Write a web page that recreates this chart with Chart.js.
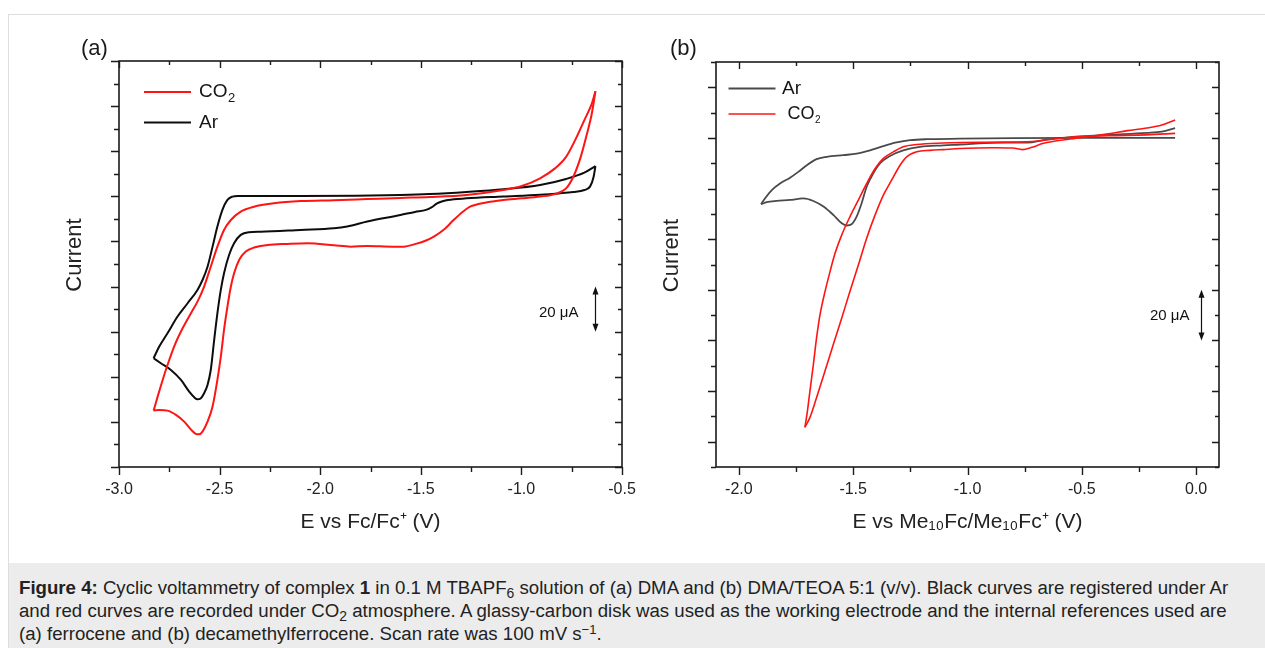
<!DOCTYPE html>
<html>
<head>
<meta charset="utf-8">
<script src="https://cdn.jsdelivr.net/npm/chart.js@4.4.1/dist/chart.umd.min.js"></script>
<style>
  html, body { margin: 0; padding: 0; background: #fff; }
  body {
    width: 1265px; height: 648px; position: relative; overflow: hidden;
    font-family: "Liberation Sans", Arial, Helvetica, sans-serif; color: #222;
  }
  .box { position: absolute; left: 8px; top: 14px; width: 1300px; height: 700px; border: 1px solid #dedede; }
  canvas { position: absolute; top: 0; }
  #cvA { left: 0; }
  #cvB { left: 640px; }
  .panel { position: absolute; font-size: 22px; line-height: 22px; color: #1a1a1a; }
  .caption {
    position: absolute; left: 9px; top: 563px; width: 1256px; height: 85px;
    background: #ececec; box-sizing: border-box; padding: 13px 0 0 10px;
    font-size: 18.65px; line-height: 23px; white-space: nowrap; color: #222;
  }
  .caption sub { font-size: 0.75em; line-height: 0; vertical-align: -0.3em; }
  .caption sup { font-size: 0.7em; line-height: 0; vertical-align: 0.45em; }
</style>
</head>
<body>
<div class="box"></div>
<canvas id="cvA" width="640" height="548"></canvas>
<canvas id="cvB" width="625" height="548"></canvas>
<div class="panel" style="left:81px;top:37px">(a)</div>
<div class="panel" style="left:670px;top:37px">(b)</div>
<div class="caption">
<b>Figure 4:</b> Cyclic voltammetry of complex <b>1</b> in 0.1 M TBAPF<sub>6</sub> solution of (a) DMA and (b) DMA/TEOA 5:1 (v/v). Black curves are registered under Ar<br>
and red curves are recorded under CO<sub>2</sub> atmosphere. A glassy-carbon disk was used as the working electrode and the internal references used are<br>
(a) ferrocene and (b) decamethylferrocene. Scan rate was 100 mV s<sup>&minus;1</sup>.
</div>

<script>
"use strict";

/**
 * (a) DMA, potentials vs Fc/Fc+ (V), currents in uA
 */
const arA_cathE = [-0.632, -0.641, -0.659, -0.687, -0.742, -0.815, -0.907, -1.090, -1.273, -1.365,
    -1.392, -1.419, -1.447, -1.474, -1.529, -1.601, -1.766, -1.866, -1.932, -2.097,
    -2.296, -2.354, -2.395, -2.428, -2.453, -2.478, -2.494, -2.511, -2.527, -2.544,
    -2.560, -2.577, -2.593, -2.610, -2.626, -2.651, -2.692, -2.742, -2.792, -2.828];
const arA_cathI = [13.4, 8.7, 4.3, 2.8, 1.9, 1.3, 0.7, -0.1, -0.9, -1.6,
    -2.2, -3.1, -4.9, -6.0, -6.9, -8.3, -11.2, -13.4, -14.2, -14.9,
    -15.7, -15.9, -17.1, -20.8, -26.0, -34.1, -41.5, -51.9, -63.7, -77.0,
    -83.6, -87.3, -89.5, -90.0, -89.1, -86.6, -81.4, -77.0, -74.0, -71.8];

const arA_anodE = [-2.828, -2.800, -2.759, -2.709, -2.659, -2.610, -2.585, -2.560, -2.535, -2.511,
    -2.486, -2.461, -2.436, -2.411, -2.300, -2.097, -1.822, -1.601, -1.456, -1.273,
    -1.090, -0.907, -0.778, -0.687, -0.632];
const arA_anodI = [-71.8, -66.6, -60.7, -53.3, -47.4, -41.5, -37.1, -31.2, -22.3, -13.4,
    -6.0, -1.6, -0.1, 0.2, 0.2, 0.2, 0.3, 0.6, 1.0, 1.9,
    3.1, 5.0, 7.7, 10.5, 13.4];

const co2A_cathE = [-0.632, -0.650, -0.678, -0.705, -0.742, -0.778, -0.833, -0.907, -0.998, -1.090,
    -1.181, -1.255, -1.291, -1.337, -1.383, -1.429, -1.474, -1.529, -1.584, -1.639,
    -1.766, -1.849, -1.932, -2.064, -2.163, -2.262, -2.329, -2.370, -2.403, -2.428,
    -2.444, -2.461, -2.478, -2.494, -2.511, -2.535, -2.560, -2.585, -2.602, -2.618,
    -2.643, -2.676, -2.717, -2.759, -2.800, -2.828];
const co2A_cathI = [46.6, 36.7, 26.4, 17.5, 8.7, 3.5, 1.0, -0.1, -0.9, -1.6,
    -2.8, -4.6, -6.8, -10.5, -14.6, -17.5, -19.6, -21.2, -22.3, -22.3,
    -22.0, -22.3, -21.7, -20.8, -21.1, -21.6, -22.7, -24.5, -28.2, -34.1,
    -40.0, -48.9, -59.2, -71.1, -81.4, -93.2, -99.9, -104.3, -105.5, -105.3,
    -103.3, -99.9, -96.9, -95.0, -94.7, -95.0];

const co2A_anodE = [-2.828, -2.808, -2.783, -2.759, -2.726, -2.684, -2.643, -2.610, -2.577, -2.544,
    -2.511, -2.478, -2.444, -2.395, -2.329, -2.230, -2.097, -1.932, -1.766, -1.601,
    -1.456, -1.273, -1.090, -0.998, -0.907, -0.833, -0.778, -0.733, -0.687, -0.650,
    -0.632];
const co2A_anodI = [-95.0, -88.8, -81.4, -74.8, -66.6, -58.5, -51.9, -46.7, -40.0, -31.2,
    -22.3, -14.9, -10.5, -6.8, -4.6, -3.1, -2.1, -1.7, -1.2, -0.7,
    -0.3, 0.6, 2.8, 4.6, 8.0, 12.4, 17.5, 24.9, 33.8, 41.1,
    46.6];

/**
 * (b) DMA/TEOA, potentials vs Me10Fc/Me10Fc+ (V), currents in uA
 */
const arB_upE = [-0.092, -0.500, -0.800, -1.033, -1.178, -1.251, -1.310, -1.368, -1.426, -1.485,
    -1.543, -1.616, -1.660, -1.703, -1.740, -1.776, -1.820, -1.856, -1.886, -1.903];
const arB_upI = [40.0, 40.0, 39.9, 39.7, 39.5, 39.1, 38.2, 36.8, 35.1, 33.8,
    33.2, 32.5, 31.6, 29.2, 26.6, 24.3, 22.0, 19.4, 16.1, 13.8];

const arB_loE = [-1.903, -1.878, -1.835, -1.776, -1.718, -1.674, -1.630, -1.587, -1.550, -1.528,
    -1.507, -1.485, -1.463, -1.441, -1.412, -1.383, -1.339, -1.281, -1.208, -1.106,
    -1.033, -0.886, -0.718, -0.652, -0.551, -0.384, -0.217, -0.150, -0.092];
const arB_loI = [13.8, 14.6, 15.1, 15.5, 16.1, 15.1, 12.9, 9.6, 6.3, 5.4,
    5.9, 8.9, 14.2, 20.7, 26.0, 29.9, 32.9, 35.1, 36.5, 37.1,
    37.4, 38.1, 38.3, 39.4, 40.3, 41.2, 42.0, 42.5, 43.9];

const co2B_leftE = [-1.711, -1.700, -1.689, -1.674, -1.660, -1.645, -1.623, -1.601, -1.579, -1.550,
    -1.514, -1.477, -1.441, -1.404, -1.368, -1.324, -1.281, -1.222, -1.106, -1.033,
    -0.886, -0.718, -0.551, -0.384, -0.217, -0.092];
const co2B_leftI = [-74.3, -67.8, -59.9, -49.4, -38.9, -29.8, -20.6, -12.7, -5.5, 1.7,
    8.9, 15.5, 22.0, 27.9, 31.9, 34.5, 36.5, 37.4, 38.0, 38.2,
    38.3, 38.6, 40.3, 40.9, 41.2, 41.8];

const co2B_rightE = [-1.711, -1.689, -1.660, -1.623, -1.587, -1.550, -1.514, -1.477, -1.441, -1.404,
    -1.368, -1.332, -1.295, -1.266, -1.222, -1.164, -1.106, -1.033, -0.886, -0.802,
    -0.760, -0.718, -0.668, -0.551, -0.384, -0.301, -0.217, -0.150, -0.092];
const co2B_rightI = [-74.3, -70.4, -62.5, -52.0, -41.6, -31.1, -20.6, -10.1, 0.4, 9.6,
    17.4, 23.3, 29.2, 32.5, 34.5, 35.1, 35.4, 35.8, 36.1, 36.0,
    35.4, 36.3, 37.9, 39.6, 41.6, 42.9, 43.9, 45.1, 47.1];

/**
 * Ejes: etiquetas del eje x y barras de escala (20 uA)
 */
const xTicksA = [-3.0, -2.5, -2.0, -1.5, -1.0, -0.5];
const xTicksB = [-2.0, -1.5, -1.0, -0.5, 0.0];
const scaleBarA = [-40, -60];
const scaleBarB = [-20, -40];

const FONT = '"Liberation Sans", Arial, Helvetica, sans-serif';
const RED = "#ff1414";

function toPoints(es, is) {
    return es.map((e, i) => ({ x: e, y: is[i] }));
}

function branch(es, is, color, width) {
    return {
        data: toPoints(es, is),
        borderColor: color,
        borderWidth: width,
        showLine: true,
        pointRadius: 0,
        fill: false,
        cubicInterpolationMode: "monotone",
    };
}

/**
 * Marco cerrado con marcas: hacia fuera abajo/izquierda, hacia dentro arriba/derecha
 */
function framePlugin() {
    return {
        id: "frame",
        afterDatasetsDraw(chart) {
            const { ctx, chartArea: a, scales } = chart;
            const x = scales.x;
            const y = scales.y;
            ctx.save();
            ctx.strokeStyle = "#1b1b1b";
            ctx.lineWidth = 1.6;
            ctx.strokeRect(a.left, a.top, a.right - a.left, a.bottom - a.top);

            ctx.lineWidth = 1.4;
            ctx.beginPath();
            for (let k = Math.ceil(x.min / 0.25 - 1e-6); k <= Math.floor(x.max / 0.25 + 1e-6); k++) {
                const px = Math.round(x.getPixelForValue(k * 0.25)) + 0.5;
                const major = k % 2 === 0;
                ctx.moveTo(px, a.bottom);
                ctx.lineTo(px, a.bottom + (major ? 8 : 5));
                ctx.moveTo(px, a.top);
                ctx.lineTo(px, a.top + (major ? 7 : 4));
            }
            for (let k = Math.ceil(y.min / 10 - 1e-6); k <= Math.floor(y.max / 10 + 1e-6); k++) {
                const py = Math.round(y.getPixelForValue(k * 10)) + 0.5;
                const major = k % 2 === 0;
                ctx.moveTo(a.left, py);
                ctx.lineTo(a.left - (major ? 8 : 5), py);
                ctx.moveTo(a.right, py);
                ctx.lineTo(a.right - (major ? 7 : 4), py);
            }
            ctx.stroke();
            ctx.restore();
        },
    };
}

/**
 * Titulo vertical "Current", algo por encima del centro del eje
 */
function yTitlePlugin(cfg) {
    return {
        id: "yTitle",
        afterDraw(chart) {
            const { ctx, chartArea: a } = chart;
            ctx.save();
            ctx.translate(cfg.x, (a.top + a.bottom) / 2 + cfg.dy);
            ctx.rotate(-Math.PI / 2);
            ctx.fillStyle = "#222";
            ctx.font = `22px ${FONT}`;
            ctx.textAlign = "center";
            ctx.textBaseline = "middle";
            ctx.fillText(cfg.text, 0, 0);
            ctx.restore();
        },
    };
}

function legendPlugin(cfg) {
    return {
        id: "panelLegend",
        afterDraw(chart) {
            const { ctx, chartArea: a } = chart;
            ctx.save();
            cfg.items.forEach((it, i) => {
                const yy = a.top + cfg.top + i * cfg.rowGap;
                const x0 = a.left + cfg.left;
                ctx.strokeStyle = it.color;
                ctx.lineWidth = it.width;
                ctx.beginPath();
                ctx.moveTo(x0, yy);
                ctx.lineTo(x0 + cfg.len, yy);
                ctx.stroke();

                const tx = x0 + cfg.len + it.pad;
                ctx.fillStyle = "#151515";
                ctx.textAlign = "left";
                ctx.textBaseline = "middle";
                ctx.font = `${it.size}px ${FONT}`;
                ctx.fillText(it.text, tx, yy);
                if (it.sub) {
                    const w = ctx.measureText(it.text).width;
                    ctx.font = `${it.subSize}px ${FONT}`;
                    ctx.fillText(it.sub, tx + w + 0.5, yy + it.size * 0.32);
                }
            });
            ctx.restore();
        },
    };
}

function scaleBarPlugin(cfg) {
    return {
        id: "scaleBar",
        afterDraw(chart) {
            const { ctx, scales } = chart;
            const px = Math.round(scales.x.getPixelForValue(cfg.e)) + 0.5;
            const y1 = scales.y.getPixelForValue(cfg.range[0]);
            const y2 = scales.y.getPixelForValue(cfg.range[1]);
            ctx.save();
            ctx.strokeStyle = "#111";
            ctx.fillStyle = "#111";
            ctx.lineWidth = 1.2;
            ctx.beginPath();
            ctx.moveTo(px, y1 + 6);
            ctx.lineTo(px, y2 - 6);
            ctx.stroke();
            ctx.beginPath();
            ctx.moveTo(px, y1);
            ctx.lineTo(px - 3, y1 + 8);
            ctx.lineTo(px + 3, y1 + 8);
            ctx.closePath();
            ctx.moveTo(px, y2);
            ctx.lineTo(px - 3, y2 - 8);
            ctx.lineTo(px + 3, y2 - 8);
            ctx.closePath();
            ctx.fill();

            ctx.font = `15px ${FONT}`;
            ctx.textAlign = "right";
            ctx.textBaseline = "middle";
            ctx.fillText(cfg.label, px - cfg.gap, (y1 + y2) / 2 + cfg.dy);
            ctx.restore();
        },
    };
}

function buildChart(canvasId, cfg) {
    return new Chart(document.getElementById(canvasId), {
        type: "scatter",
        data: { datasets: cfg.datasets },
        options: {
            responsive: false,
            animation: false,
            events: [],
            layout: { padding: cfg.padding },
            plugins: {
                legend: { display: false },
                tooltip: { enabled: false },
            },
            scales: {
                x: {
                    type: "linear",
                    min: cfg.xMin,
                    max: cfg.xMax,
                    // la longitud de marca solo separa las etiquetas; las marcas las pinta "frame"
                    grid: { display: false, drawTicks: true, tickLength: 13 },
                    border: { display: false },
                    afterBuildTicks: (axis) => {
                        axis.ticks = cfg.xTicks.map((v) => ({ value: v }));
                    },
                    afterFit: (axis) => {
                        axis.height = cfg.xHeight;
                    },
                    ticks: {
                        padding: 0,
                        color: "#222",
                        maxRotation: 0,
                        font: { size: 16, family: FONT },
                        callback: (v) => Number(v).toFixed(1),
                    },
                    title: {
                        display: true,
                        text: cfg.xTitle,
                        color: "#222",
                        font: { size: 21, family: FONT },
                        padding: { top: 0, bottom: 13 },
                    },
                },
                y: {
                    type: "linear",
                    min: cfg.yMin,
                    max: cfg.yMax,
                    grid: { display: false, drawTicks: false },
                    border: { display: false },
                    ticks: { display: false },
                    afterFit: (axis) => {
                        axis.width = cfg.yWidth;
                    },
                    title: { display: false },
                },
            },
        },
        plugins: [
            framePlugin(),
            yTitlePlugin(cfg.yTitle),
            legendPlugin(cfg.legend),
            scaleBarPlugin(cfg.scaleBar),
        ],
    });
}

document.addEventListener("DOMContentLoaded", () => {
    /**
     * Panel (a)
     */
    buildChart("cvA", {
        datasets: [
            branch(co2A_cathE, co2A_cathI, RED, 2),
            branch(co2A_anodE, co2A_anodI, RED, 2),
            branch(arA_cathE, arA_cathI, "#0d0d0d", 2),
            branch(arA_anodE, arA_anodI, "#0d0d0d", 2),
        ],
        padding: { left: 0, right: 18, top: 61, bottom: 0 },
        xMin: -3.0,
        xMax: -0.5,
        yMin: -120,
        yMax: 60,
        xTicks: xTicksA,
        xHeight: 81,
        yWidth: 119,
        yTitle: { text: "Current", x: 75, dy: -9 },
        xTitle: "E vs Fc/Fc\u207A (V)",
        legend: {
            left: 25, top: 31, rowGap: 30.5, len: 47,
            items: [
                { text: "CO", sub: "2", color: RED, width: 2, pad: 8, size: 19, subSize: 13 },
                { text: "Ar", color: "#0d0d0d", width: 2, pad: 8, size: 19 },
            ],
        },
        scaleBar: { e: -0.632, range: scaleBarA, label: "20 \u03BCA", gap: 17, dy: 4 },
    });

    /**
     * Panel (b)
     */
    const GRAY = "#4a4a4a";
    buildChart("cvB", {
        datasets: [
            branch(co2B_leftE, co2B_leftI, RED, 1.6),
            branch(co2B_rightE, co2B_rightI, RED, 1.6),
            branch(arB_upE, arB_upI, GRAY, 1.8),
            branch(arB_loE, arB_loI, GRAY, 1.8),
        ],
        padding: { left: 0, right: 46, top: 62, bottom: 0 },
        xMin: -2.1,
        xMax: 0.1,
        yMin: -90,
        yMax: 70,
        xTicks: xTicksB,
        xHeight: 81,
        yWidth: 76,
        yTitle: { text: "Current", x: 32, dy: -9 },
        xTitle: "E vs Me\u2081\u2080Fc/Me\u2081\u2080Fc\u207A (V)",
        legend: {
            left: 12.5, top: 26.5, rowGap: 25.5, len: 47,
            items: [
                { text: "Ar", color: GRAY, width: 2, pad: 6.5, size: 19 },
                { text: "CO", sub: "2", color: RED, width: 1.6, pad: 12, size: 18, subSize: 10 },
            ],
        },
        scaleBar: { e: 0.02, range: scaleBarB, label: "20 \u03BCA", gap: 12, dy: 1 },
    });
});
</script>
</body>
</html>
